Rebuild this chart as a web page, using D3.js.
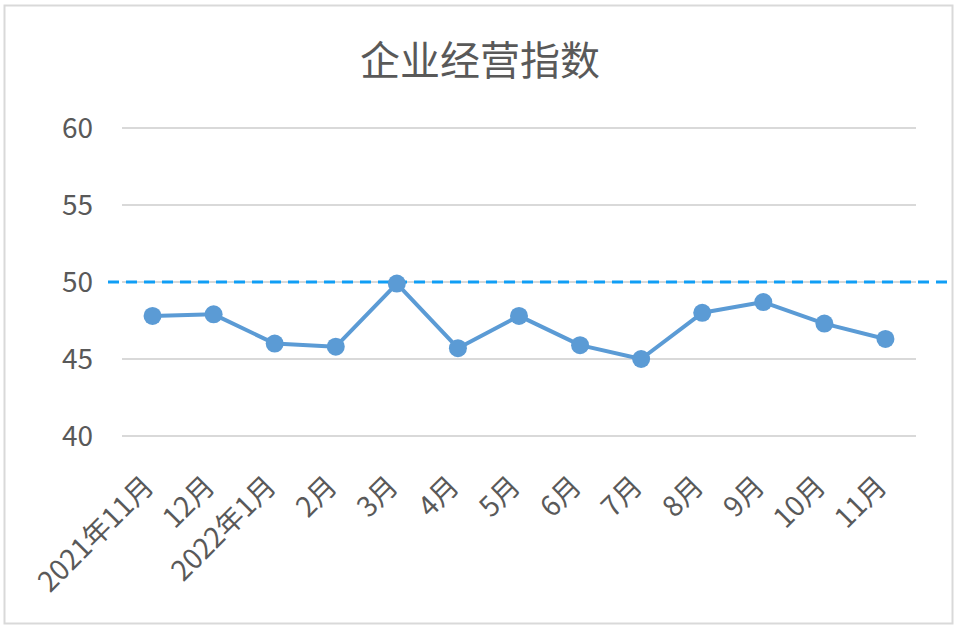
<!DOCTYPE html>
<html><head><meta charset="utf-8">
<script src="https://cdn.jsdelivr.net/npm/d3@7"></script>
<style>html,body{margin:0;padding:0;background:#fff}svg{display:block}</style>
</head><body>
<svg id="c" width="960" height="629"></svg>
<script>
const title = "企业经营指数";
const categories = ["2021年11月","12月","2022年1月","2月","3月","4月","5月","6月","7月","8月","9月","10月","11月"];
const values = [47.8, 47.9, 46.0, 45.8, 49.9, 45.7, 47.8, 45.9, 45.0, 48.0, 48.7, 47.3, 46.3];
const yTicks = [40, 45, 50, 55, 60];
const refValue = 50;

const svg = d3.select("#c");
const font = "'Noto Sans CJK SC','Microsoft YaHei',sans-serif";
const textColor = "#595959";

svg.append("rect").attr("x",4.5).attr("y",5.5).attr("width",948).attr("height",618)
  .attr("fill","#fff").attr("stroke","#d9d9d9").attr("stroke-width",2);

const m = {left:122, right:916, top:128, bottom:436};
const x = d3.scaleBand().domain(categories).range([m.left, m.right]);
const y = d3.scaleLinear().domain([40,60]).range([m.bottom, m.top]);

svg.append("text").attr("x",480).attr("y",75).attr("text-anchor","middle")
  .attr("font-family",font).attr("font-size",40).attr("fill",textColor).text(title);

// gridlines
svg.append("g").selectAll("line").data(yTicks).join("line")
  .attr("x1",m.left).attr("x2",m.right)
  .attr("y1",d=>y(d)).attr("y2",d=>y(d))
  .attr("stroke","#d9d9d9").attr("stroke-width",2);

// y labels
svg.append("g").selectAll("text").data(yTicks).join("text")
  .attr("x",93).attr("y",d=>y(d)).attr("dy","0.36em").attr("text-anchor","end")
  .attr("font-family",font).attr("font-size",28).attr("fill",textColor).text(d=>d);

// x labels
svg.append("g").selectAll("text").data(categories).join("text")
  .attr("text-anchor","end")
  .attr("transform",d=>`translate(${x(d)+x.bandwidth()/2+3},${m.bottom+52}) rotate(-45)`)
  .attr("font-family",font).attr("font-size",28).attr("fill",textColor).text(d=>d);

// reference dashed line
svg.append("line").attr("x1",m.left-14).attr("x2",m.right+37)
  .attr("y1",y(refValue)).attr("y2",y(refValue))
  .attr("stroke","#109ef5").attr("stroke-width",3).attr("stroke-dasharray","11,7");

const cx = (d,i)=>x(categories[i])+x.bandwidth()/2;
svg.append("path").datum(values)
  .attr("d", d3.line().x(cx).y(d=>y(d)))
  .attr("fill","none").attr("stroke","#5b9bd5").attr("stroke-width",4).attr("stroke-linejoin","round");

svg.append("g").selectAll("circle").data(values).join("circle")
  .attr("cx",cx).attr("cy",d=>y(d)).attr("r",9).attr("fill","#5b9bd5");
</script>
</body></html>
